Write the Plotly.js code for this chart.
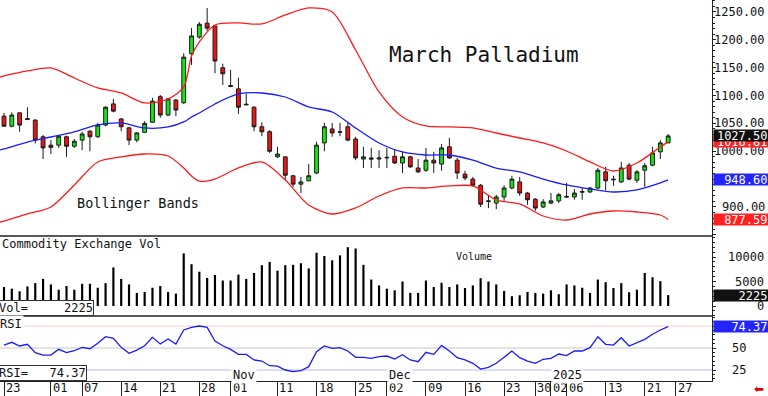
<!DOCTYPE html>
<html>
<head>
<meta charset="utf-8">
<script src="https://cdn.plot.ly/plotly-3.0.1.min.js"></script>
<style>html,body{margin:0;padding:0;background:#fff;}#chart{width:768px;height:396px;}</style>
</head>
<body>
<div id="chart"></div>
<script>
// Trading-day index 0 = 2024-09-23 ... 85 = 2025-01-24
const openP  = [1063,1045,1069,1057,1056,1026,1011,1011,1026,1009,1020,1036,1026,1047,1085,1058,1042,1020,1034,1052,1098,1065,1092,1087,1175,1205,1230,1225,1150,1118,1112,1084.5,1079,1044,1035,990,990,956,941,947,961,1015,1040,1034,1044,1022,986,988,986,988,991,979,990,970,966,984,977,1008,984,959,950,939,911,907,918,934,945,925,914,900,907,911,919,918,926.5,927,934,963,950,945,975,948,966,975,999,1015];
const highP  = [1069,1070,1069,1079,1057,1029,1020,1029,1028,1022,1035,1038,1051,1081,1094,1060,1044,1034,1054,1096,1101,1096,1094,1176,1221,1232,1257,1225,1157,1146,1132,1104,1081,1052,1038,1008,990,957,954,977,1017,1051,1051,1051,1051,1026,1008,1006,1002,1006,1004,999,992,986,1006,999,1013,1024,988,965,954,941,920,922,939,956,954,927,916,914,925,925,943,932,934,936,970,972,956,981,979,966,979,1008,1020,1031];
const lowP   = [1044,1043,1035,1056,1014,986,995,1006,990,1006,1002,1000,1024,1045,1070,1036,1011,1016,1033,1051,1060,1063,1063,1085,1155,1202,1216,1140,1119,1115,1067,1083,1036,1027,997,988,948,936,925,946,959,1000,1026,1027,1018,984,970,970,970,970,977,961,970,961,963,961,965,986,950,948,936,900,898,896,911,932,920,904,893,898,905,907,916,913,913,925,932,930,938,943,948,943,936,973,986,1015];
const closeP = [1045,1065,1047,1058.5,1020,1006,1007,1027,1009,1018,1031,1026,1047,1079,1072,1044,1020,1033,1050,1090,1065,1094,1074,1169,1207,1228,1221,1162,1139,1116.5,1079,1083.5,1044,1035,1000,995,957,941,945,956,1011,1044,1033,1035,1020,988,990,986,988,989,979,990,972,963,984,979,1006,988,961,952,939,905,910,918,934,950,925,913,898,909,911,922,918,925,927.5,934,966,947,949,970,950,963,974,997,1015,1027.5];
const volume = [3870,3530,3000,4000,4670,5530,4400,3330,4070,3330,4530,4530,3730,4670,7870,5530,4400,2670,2870,3730,4070,2870,2530,10730,8530,7000,5730,6330,5200,5200,6400,5530,6730,8330,9000,7200,8330,8400,8730,7670,10870,10200,9330,10330,12000,11730,8400,5400,4200,3530,3200,5000,2670,2670,5200,3870,4730,3870,4400,3670,4200,5670,5000,4400,3070,2000,2200,2870,2670,2530,3200,2400,4400,4200,3730,2670,5400,4870,3670,4670,2800,3330,6730,5870,5070,2225];
const rsi = [53.4,56.5,52.3,54.2,44.7,42.0,42.0,48.5,44.7,46.9,50.8,49.2,55.3,62.9,61.0,50.8,44.0,47.7,52.6,62.1,54.5,60.2,54.5,70.5,73.5,75.0,73.5,58.0,52.6,48.5,42.8,42.8,36.4,35.2,29.9,29.5,25.0,23.1,24.2,28.8,45.8,52.3,49.7,50.4,46.6,39.4,39.4,38.3,40.1,40.9,37.5,42.4,36.4,34.4,45.1,42.8,53.0,46.6,39.0,36.4,32.6,26.1,28.0,32.6,39.4,46.6,39.0,35.2,32.6,37.2,38.3,43.2,41.3,46.6,46.6,50.4,62.9,54.2,53.4,61.7,52.3,56.5,59.9,65.6,70.5,74.37];

// Bollinger band readings (sampled trading-day positions)
const bandIdx = [-0.5,0,3,6,9,12,15,18,21,23,24,25,27,30,33,36,39,42,45,48,51,54,57,60,63,66,69,72,75,78,81,84,85];
const bandUpper = [1133.3,1135.1,1144.1,1149.5,1131.5,1113.6,1104.6,1086.7,1093.8,1115.4,1171.0,1196.2,1226.7,1230.3,1228.5,1244.6,1257.2,1250.0,1181.8,1106.4,1061.5,1045.4,1043.6,1041.8,1032.8,1023.8,1014.9,1000.5,980.8,964.6,978.9,1007.7,1016.81];
const bandMid = [1002.3,1004.1,1016.6,1025.6,1034.6,1047.2,1050.8,1041.8,1043.6,1052.6,1061.5,1068.7,1084.9,1102.8,1104.6,1097.4,1079.5,1070.5,1041.8,1014.9,998.7,993.3,993.3,984.3,969.9,962.8,950.2,939.5,932.3,926.9,930.5,943.1,948.60];
const bandLower = [873.0,874.8,887.4,900.0,939.5,980.8,989.8,995.1,991.5,970.0,955.6,946.6,950.2,970.0,980.8,948.4,903.6,887.4,898.2,919.7,934.1,934.1,937.7,937.7,912.5,905.4,883.8,876.6,887.4,892.8,891.0,885.6,877.59];

const tickIdx  = [0,6,10,15,20,25,29,35,40,45,49,54,59,64,68,70,72,77,82,86];
const tickText = ['23','01','07','14','21','28','01','11','18','25','02','09','16','23','30','02','06','13','21','27'];
const monthIdx = [29,49,70];
const monthText = ['Nov','Dec','2025'];
const priceTicks = [900,1000,1050,1100,1150,1200,1250];
const volTicks = [0,5000,10000];
const rsiTicks = [25,50];
const rsiLevels = [75,50,25];

const idx = closeP.map((_, i) => i);
const FONT = 'DejaVu Sans Mono';
const last = closeP.length - 1;

const traces = [
  {type:'scatter', mode:'lines', x:bandIdx, y:bandUpper, line:{color:'#ff1a1a', width:1.3, shape:'spline', smoothing:0.8}, xaxis:'x', yaxis:'y', hoverinfo:'skip'},
  {type:'scatter', mode:'lines', x:bandIdx, y:bandLower, line:{color:'#ff1a1a', width:1.3, shape:'spline', smoothing:0.8}, xaxis:'x', yaxis:'y', hoverinfo:'skip'},
  {type:'scatter', mode:'lines', x:bandIdx, y:bandMid, line:{color:'#1a1aff', width:1.3, shape:'spline', smoothing:0.8}, xaxis:'x', yaxis:'y', hoverinfo:'skip'},
  {type:'candlestick', x:idx, open:openP, high:highP, low:lowP, close:closeP, xaxis:'x', yaxis:'y',
   increasing:{line:{color:'#1a1a1a', width:1}, fillcolor:'#14e614'},
   decreasing:{line:{color:'#1a1a1a', width:1}, fillcolor:'#ee1414'}, whiskerwidth:0},
  {type:'bar', x:idx, y:volume, width:0.28, marker:{color:'#000', line:{width:0}}, xaxis:'x', yaxis:'y2'},
  {type:'scatter', mode:'lines', x:idx, y:rsi, line:{color:'#1a1aff', width:1.3}, xaxis:'x', yaxis:'y3'}
];

const H = 381; // plot height px
const py = p => 1 - p / H; // pixel row -> paper fraction
const W = 712;
const px = p => p / W;

const ann = [];
const txt = (text, x, y, opts) => Object.assign({text, x, y, xref:'paper', yref:'paper', showarrow:false, xanchor:'left', yanchor:'middle', font:{family:FONT, size:12, color:'#111'}}, opts || {});

ann.push(txt('March Palladium', px(387), py(55), {font:{family:FONT, size:21, color:'#111'}}));
ann.push(txt('Bollinger Bands', px(75), py(203), {font:{family:FONT, size:13.5, color:'#111'}}));
ann.push(txt('Commodity Exchange Vol', px(0), py(244), {}));
ann.push(txt('Volume', px(454), py(256), {font:{family:FONT, size:10, color:'#111'}}));
ann.push(txt('Vol=     ' + volume[last], 0, py(316), {xshift:-2, yanchor:'bottom', bordercolor:'#333', borderwidth:1, borderpad:0, bgcolor:'#fff'}));
ann.push(txt('RSI', 0, py(324), {xshift:-2, bgcolor:'#fff'}));
ann.push(txt('RSI=   ' + rsi[last].toFixed(2), 0, py(381), {xshift:-2, yanchor:'bottom', bordercolor:'#333', borderwidth:1, borderpad:0, bgcolor:'#fff'}));

// right axis labels
priceTicks.forEach(v => ann.push({text:v.toFixed(2), x:1, xref:'paper', y:v, yref:'y', xanchor:'right', xshift:55, yanchor:'middle', showarrow:false, font:{family:FONT, size:12, color:'#111'}}));
volTicks.forEach(v => ann.push({text:String(v), x:1, xref:'paper', y:v, yref:'y2', xanchor:'right', xshift:54, yanchor:'middle', showarrow:false, font:{family:FONT, size:12, color:'#111'}}));
rsiTicks.forEach(v => ann.push({text:String(v), x:1, xref:'paper', y:v, yref:'y3', xanchor:'left', xshift:18, yanchor:'middle', showarrow:false, font:{family:FONT, size:12, color:'#111'}}));

const box = (text, y, yref, bg) => ({text, x:1, xref:'paper', y, yref, xanchor:'left', xshift:1, yanchor:'middle', showarrow:false, bgcolor:bg, width:53, height:10, align:'right', borderpad:0.5, font:{family:FONT, size:12, color:'#fff'}});
ann.push(box(bandUpper[bandUpper.length-1].toFixed(2), bandUpper[bandUpper.length-1], 'y', '#ff2020'));
ann.push(box(closeP[last].toFixed(2), closeP[last], 'y', '#111'));
ann.push(box(bandMid[bandMid.length-1].toFixed(2), bandMid[bandMid.length-1], 'y', '#2424ff'));
ann.push(box(bandLower[bandLower.length-1].toFixed(2), bandLower[bandLower.length-1], 'y', '#ff2020'));
ann.push(box(String(volume[last]), volume[last], 'y2', '#111'));
ann.push(box(rsi[last].toFixed(2), rsi[last], 'y3', '#2424ff'));

// date labels
tickIdx.forEach((v, i) => ann.push({text:tickText[i], x:v, xref:'x', y:py(388), yref:'paper', xanchor:'left', xshift:0, yanchor:'middle', showarrow:false, font:{family:FONT, size:12, color:'#111'}}));
monthIdx.forEach((v, i) => ann.push({text:monthText[i], x:v, xref:'x', y:py(375), yref:'paper', xanchor:'left', xshift:0, yanchor:'middle', showarrow:false, bgcolor:'#fff', font:{family:FONT, size:12, color:'#111'}}));
ann.push({text:'⬅', x:1, xref:'paper', y:py(389), yref:'paper', xanchor:'left', xshift:40, yanchor:'middle', showarrow:false, font:{family:'DejaVu Sans', size:12, color:'#e00000'}});

const levelColors = ['#ffcccc', '#c8c8c8', '#b8b8ff'];
const shapes = rsiLevels.map((v, i) => ({type:'line', xref:'paper', x0:0, x1:1, yref:'y3', y0:v, y1:v, line:{color:levelColors[i], width:1}, layer:'below'}));
shapes.push({type:'line', xref:'paper', x0:0, x1:1, yref:'paper', y0:py(236), y1:py(236), line:{color:'#222', width:1.5}});
shapes.push({type:'line', xref:'paper', x0:0, x1:1, yref:'paper', y0:py(316), y1:py(316), line:{color:'#222', width:1.5}});

const yCommon = {side:'right', showline:true, linecolor:'#222', linewidth:1, ticks:'outside', ticklen:3, tickcolor:'#222', showticklabels:false, showgrid:false, zeroline:false, fixedrange:true};

const layout = {
  width:768, height:396, margin:{l:0, r:56, t:0, b:15, pad:0},
  paper_bgcolor:'#fff', plot_bgcolor:'#fff', showlegend:false, boxgap:0.3,
  xaxis:{range:[-0.512, 90.61], anchor:'y3', showline:true, linecolor:'#222', linewidth:1, ticks:'outside', ticklen:15, tickcolor:'#222', tickmode:'array', tickvals:tickIdx, showticklabels:false, showgrid:false, zeroline:false, rangeslider:{visible:false}, fixedrange:true},
  yaxis:Object.assign({}, yCommon, {domain:[py(236), 1], range:[847.9, 1271.5], tickmode:'linear', tick0:0, dtick:50, minor:{ticks:'outside', ticklen:2, dtick:10, tickcolor:'#222'}}),
  yaxis2:Object.assign({}, yCommon, {domain:[py(316), py(236)], range:[-2041, 14286], tickmode:'linear', tick0:0, dtick:5000, anchor:'x', minor:{ticks:'outside', ticklen:2, dtick:1000, tickcolor:'#222'}}),
  yaxis3:Object.assign({}, yCommon, {domain:[0, py(316)], range:[12.5, 86.4], tickmode:'linear', tick0:0, dtick:25, anchor:'x', minor:{ticks:'outside', ticklen:2, dtick:5, tickcolor:'#222'}}),
  annotations:ann, shapes:shapes
};

Plotly.newPlot('chart', traces, layout, {staticPlot:true, displayModeBar:false});
</script>
</body>
</html>
